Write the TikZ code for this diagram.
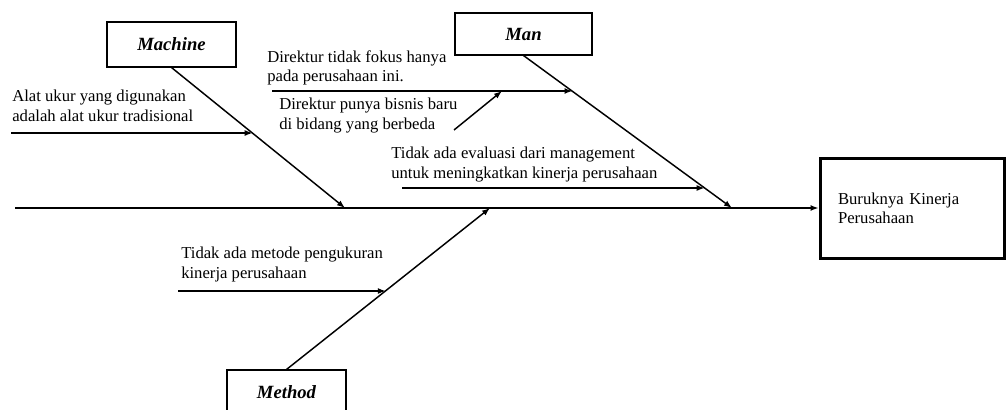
\documentclass[tikz,border=0pt]{standalone}
\usepackage{fontspec}
\setmainfont{Liberation Serif}
\usepackage{tikz}
\usetikzlibrary{arrows.meta,calc}

\begin{document}
\begin{tikzpicture}[x=0.75pt,y=-0.75pt,font=\fontsize{12.5}{14.5}\selectfont,
  cat/.style={draw=black,line width=0.8pt,fill=white,minimum width=96.75pt,minimum height=33.75pt,inner sep=0pt,font=\fontsize{14}{16}\selectfont\bfseries\itshape},
  cause/.style={anchor=base west,align=left,inner sep=0pt},
  eff/.style={draw=black,line width=2.25pt,align=left,text width=111pt,inner xsep=13.5pt,minimum width=138pt,minimum height=75pt},
  ar/.style={-{Latex[length=6pt,width=4.5pt]},draw=black,line width=1.1pt}]

\useasboundingbox (0,0) rectangle (1006,410);

\node[cat] (machine) at (171.5,44.5) {Machine};
\node[cat,minimum width=102.75pt,minimum height=31.5pt] (man) at (523.5,34) {Man};
\node[cat,minimum width=89.25pt] (method) at (286.5,392.5) {Method};
\node[eff] (effect) at (912,208) {Buruknya Kinerja\\Perusahaan};

\node[cause] (alat) at (12,121) {Alat ukur yang digunakan\\adalah alat ukur tradisional};
\node[cause] (fokus) at (267,82) {Direktur tidak fokus hanya\\pada perusahaan ini.};
\node[cause] (bisnis) at (279,129) {Direktur punya bisnis baru\\di bidang yang berbeda};
\node[cause] (evaluasi) at (391,178) {Tidak ada evaluasi dari management\\untuk meningkatkan kinerja perusahaan};
\node[cause] (metode) at (181,278) {Tidak ada metode pengukuran\\kinerja perusahaan};

\coordinate (tail) at (15,208);
\coordinate (jMachine) at (345,208);
\coordinate (jMethod) at (490,208);
\coordinate (jMan) at (732,208);

\draw[ar] (tail) -- (effect.west);
\draw[ar] (machine.south) -- (jMachine);
\draw[ar] (man.south) -- (jMan);
\draw[ar] (method.north) -- (jMethod);

\coordinate (kAlat) at ($(machine.south)!0.468!(jMachine)$);
\coordinate (kFokus) at ($(man.south)!0.235!(jMan)$);
\coordinate (kEval) at ($(man.south)!0.869!(jMan)$);
\coordinate (kMetode) at ($(method.north)!0.488!(jMethod)$);
\coordinate (sAlat) at (11,133);
\coordinate (sFokus) at (272,91);
\coordinate (sEval) at (402,188);
\coordinate (sMetode) at (178,291);
\coordinate (sBisnis) at (454,130);
\coordinate (kBisnis) at (502,91);

\draw[ar] (sAlat) -- (sAlat -| kAlat);
\draw[ar] (sFokus) -- (sFokus -| kFokus);
\draw[ar] (sEval) -- (sEval -| kEval);
\draw[ar] (sMetode) -- (sMetode -| kMetode);
\draw[ar] (sBisnis) -- (kBisnis);
\end{tikzpicture}
\end{document}
